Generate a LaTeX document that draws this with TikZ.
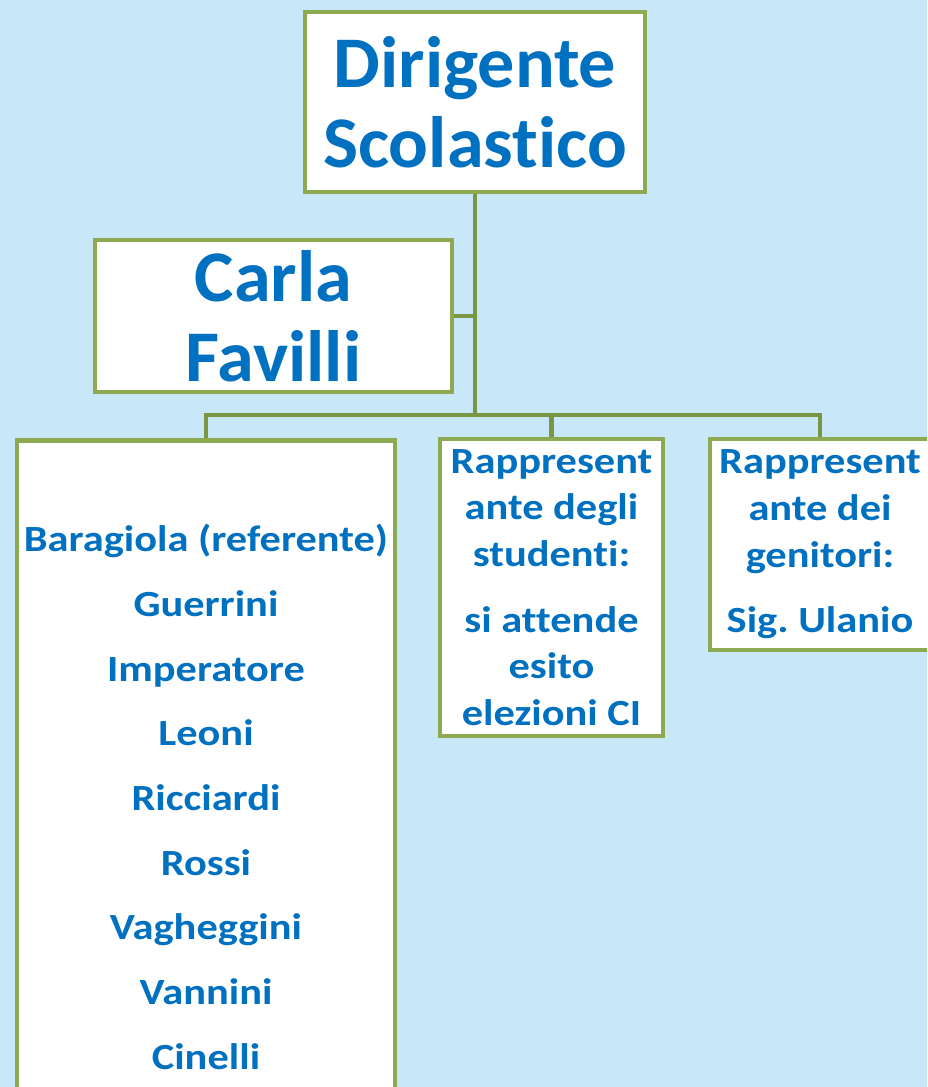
\documentclass[tikz,border=0pt]{standalone}
\usepackage{fontspec}
\setmainfont{Carlito}[Ligatures=NoCommon]
\newfontfamily\widefont{Carlito}[Ligatures=NoCommon, FakeStretch=1.15]
\newfontfamily\bigfont{Carlito}[Ligatures=NoCommon, FakeStretch=1.02]
\usetikzlibrary{positioning}
\definecolor{bgblue}{RGB}{200,232,250}
\definecolor{boxgreen}{RGB}{141,170,82}
\definecolor{linkgreen}{RGB}{122,150,66}
\definecolor{txtblue}{RGB}{0,112,192}
\frenchspacing
\begin{document}
\begin{tikzpicture}[
    x=0.02cm, y=-0.02cm,
    orgbox/.style={rectangle, draw=boxgreen, line width=2.8pt, fill=white,
        text=txtblue, align=center, inner sep=0pt},
    bigtext/.style={font=\bigfont\bfseries\fontsize{41.4}{45.4}\selectfont},
    smalltext/.style={font=\widefont\bfseries\fontsize{21}{26.6}\selectfont},
    listtext/.style={font=\widefont\bfseries\fontsize{21}{36.8}\selectfont},
    link/.style={draw=linkgreen, line width=2.8pt}
]
    \useasboundingbox (0,0) rectangle (927,1087);
    \clip (0,0) rectangle (927,1087);
    \fill[bgblue] (0,0) rectangle (927,1087);

    % boxes
    \node[orgbox, bigtext, minimum width=6.8cm, minimum height=3.6cm] (dir) at (475,102)
        {Dirigente\\Scolastico};
    \node[orgbox, bigtext, minimum width=7.14cm, minimum height=3.04cm] (carla) at (273.5,316)
        {Carla\\Favilli};
    \node[orgbox, listtext, minimum width=7.56cm, minimum height=14.28cm] (team) at (206,797)
        {Baragiola (referente)\\Guerrini\\Imperatore\\Leoni\\Ricciardi\\Rossi\\Vagheggini\\Vannini\\Cinelli};
    \node[orgbox, smalltext, minimum width=4.46cm, minimum height=5.94cm] (stud) at (551.5,587.5)
        {Rappresent\\ante degli\\studenti:\\[10.8pt]si attende\\esito\\elezioni CI};
    \node[orgbox, smalltext, minimum width=4.4cm, minimum height=4.22cm] (gen) at (820,544.5)
        {Rappresent\\ante dei\\genitori:\\[10.8pt]Sig. Ulanio};

    % connectors
    \coordinate (hub) at (475,415);
    \draw[link] (dir.south) -- (hub);
    \draw[link] (carla.east) -- (carla.east -| hub);
    \draw[link] (team.north) |- (hub);
    \draw[link] (stud.north) |- (hub);
    \draw[link] (gen.north) |- (hub);
\end{tikzpicture}
\end{document}
